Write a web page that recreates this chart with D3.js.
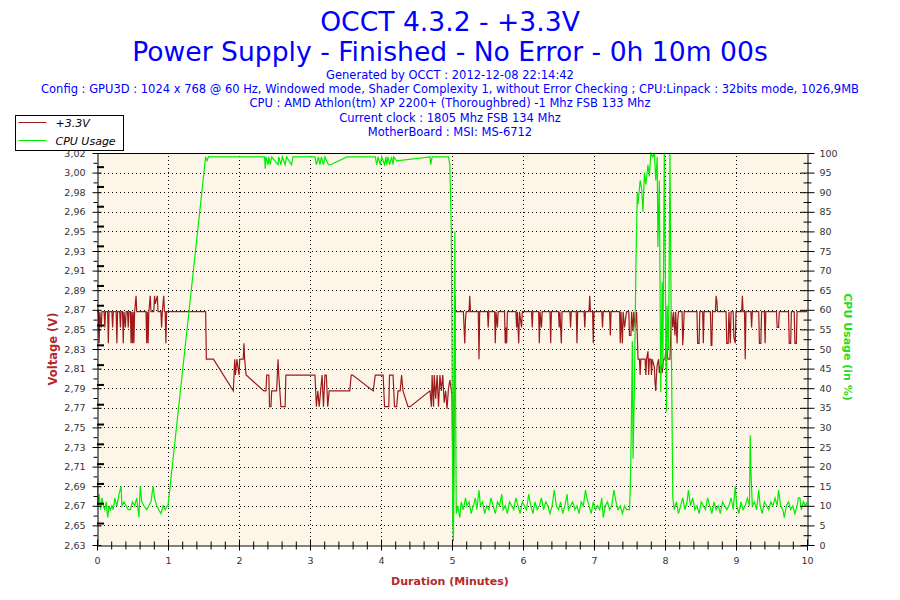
<!DOCTYPE html>
<html>
<head>
<meta charset="utf-8">
<script src="https://cdn.jsdelivr.net/npm/d3@7"></script>
<style>
body { margin: 0; background: #fff; }
svg { display: block; }
text { font-family: "DejaVu Sans", sans-serif; }
</style>
</head>
<body>
<svg width="900" height="600"></svg>
<script>
// ---- data ----
const titleLines = ["OCCT 4.3.2 - +3.3V", "Power Supply - Finished - No Error - 0h 10m 00s"];
const infoLines = [
  "Generated by OCCT : 2012-12-08 22:14:42",
  "Config : GPU3D : 1024 x 768 @ 60 Hz, Windowed mode, Shader Complexity 1, without Error Checking ; CPU:Linpack : 32bits mode, 1026,9MB",
  "CPU : AMD Athlon(tm) XP 2200+ (Thoroughbred) -1 Mhz FSB 133 Mhz",
  "Current clock : 1805 Mhz FSB 134 Mhz",
  "MotherBoard : MSI: MS-6712"
];
const seriesNames = ["+3.3V", "CPU Usage"];
const minuteTicks = [0, 1, 2, 3, 4, 5, 6, 7, 8, 9, 10];
const voltLabels = ["2,63", "2,65", "2,67", "2,69", "2,71", "2,73", "2,75", "2,77", "2,79", "2,81", "2,83",
                    "2,85", "2,87", "2,89", "2,91", "2,93", "2,95", "2,96", "2,98", "3,00", "3,02"];
const cpuTicks = [0, 5, 10, 15, 20, 25, 30, 35, 40, 45, 50, 55, 60, 65, 70, 75, 80, 85, 90, 95, 100];
const voltMin = 2.6283, voltMax = 3.0243;

// [minutes, volts]
const voltage = [
[0.00,2.864],[0.02,2.864],[0.03,2.832],[0.04,2.864],[0.06,2.848],[0.07,2.864],[0.10,2.864],[0.11,2.848],[0.12,2.864],
[0.15,2.864],[0.16,2.832],[0.17,2.864],[0.21,2.864],[0.22,2.848],[0.23,2.864],[0.27,2.864],[0.28,2.832],[0.29,2.864],
[0.32,2.864],[0.33,2.848],[0.34,2.864],[0.36,2.864],[0.37,2.832],[0.38,2.864],[0.40,2.848],[0.41,2.864],[0.43,2.864],
[0.44,2.848],[0.45,2.864],[0.47,2.864],[0.48,2.832],[0.49,2.864],[0.50,2.832],[0.51,2.864],[0.52,2.832],[0.53,2.864],
[0.55,2.880],[0.56,2.864],[0.69,2.864],[0.70,2.832],[0.71,2.864],[0.72,2.832],[0.73,2.864],[0.75,2.880],[0.76,2.864],
[0.80,2.864],[0.81,2.880],[0.82,2.872],[0.85,2.880],[0.86,2.864],[0.90,2.864],[0.91,2.848],[0.92,2.864],[0.94,2.880],
[0.95,2.864],[0.96,2.864],[0.97,2.832],[0.98,2.864],
[1.53,2.864],[1.54,2.816],[1.64,2.816],[1.92,2.784],[1.94,2.816],[1.95,2.800],[1.97,2.816],[2.00,2.800],[2.01,2.816],
[2.06,2.816],[2.07,2.832],[2.08,2.816],[2.10,2.800],[2.35,2.784],[2.38,2.784],[2.39,2.800],[2.42,2.800],[2.43,2.768],
[2.45,2.768],[2.46,2.784],[2.53,2.784],[2.54,2.800],[2.55,2.816],[2.56,2.800],[2.59,2.768],[2.65,2.768],[2.66,2.800],
[3.07,2.800],[3.09,2.768],[3.11,2.784],[3.13,2.768],[3.17,2.800],[3.19,2.768],[3.21,2.800],[3.23,2.800],[3.25,2.768],
[3.27,2.784],[3.56,2.784],[3.58,2.800],[3.60,2.800],[3.89,2.784],[3.92,2.800],[4.03,2.800],[4.05,2.768],[4.11,2.768],
[4.12,2.800],[4.17,2.800],[4.19,2.768],[4.22,2.768],[4.24,2.784],[4.27,2.784],[4.29,2.800],[4.31,2.784],[4.38,2.768],
[4.41,2.768],[4.69,2.784],[4.71,2.768],[4.72,2.800],[4.74,2.768],[4.75,2.800],[4.77,2.776],[4.79,2.800],[4.81,2.768],
[4.83,2.800],[4.85,2.784],[4.87,2.800],[4.89,2.772],[4.91,2.784],[4.93,2.766],[4.95,2.786],[4.97,2.795],[5.00,2.780],
[5.02,2.648],[5.03,2.790],[5.04,2.880],[5.05,2.864],
[5.16,2.864],[5.17,2.848],[5.18,2.832],[5.19,2.856],[5.20,2.864],[5.24,2.864],[5.25,2.880],[5.26,2.864],[5.37,2.864],
[5.38,2.816],[5.39,2.864],[5.50,2.864],[5.51,2.848],[5.52,2.864],[5.60,2.864],[5.61,2.832],[5.62,2.864],[5.64,2.848],
[5.65,2.864],[5.74,2.864],[5.75,2.832],[5.76,2.848],[5.77,2.832],[5.78,2.864],[5.90,2.864],[5.91,2.848],[5.92,2.864],
[5.94,2.832],[5.95,2.864],[5.98,2.848],[5.99,2.864],[6.12,2.864],[6.13,2.848],[6.14,2.864],[6.22,2.864],[6.23,2.832],
[6.24,2.864],[6.26,2.848],[6.27,2.864],[6.38,2.864],[6.39,2.832],[6.40,2.864],[6.50,2.864],[6.51,2.848],[6.52,2.864],
[6.54,2.832],[6.55,2.864],[6.66,2.864],[6.67,2.848],[6.68,2.864],[6.75,2.864],[6.76,2.832],[6.77,2.864],[6.86,2.864],
[6.87,2.848],[6.88,2.864],[6.93,2.864],[6.94,2.880],[6.95,2.864],[6.98,2.864],[6.99,2.832],[7.00,2.864],
[7.11,2.864],[7.12,2.848],[7.13,2.864],[7.22,2.864],[7.23,2.840],[7.24,2.864],[7.36,2.864],[7.37,2.832],[7.38,2.864],
[7.40,2.832],[7.41,2.864],[7.43,2.848],[7.45,2.860],[7.46,2.864],[7.49,2.864],[7.50,2.840],[7.52,2.840],[7.53,2.864],
[7.55,2.844],[7.56,2.864],[7.58,2.848],[7.60,2.864],[7.62,2.816],[7.64,2.816],[7.65,2.800],[7.66,2.816],[7.72,2.816],
[7.73,2.800],[7.74,2.816],[7.76,2.824],[7.77,2.800],[7.78,2.816],[7.80,2.816],[7.81,2.800],[7.82,2.816],[7.85,2.808],
[7.86,2.792],[7.87,2.784],[7.88,2.800],[7.89,2.810],[7.91,2.816],[7.92,2.802],[7.94,2.812],[7.96,2.802],[7.98,2.816],
[8.00,2.816],[8.02,2.832],[8.04,2.816],[8.07,2.816],[8.09,2.864],
[8.10,2.856],[8.11,2.848],[8.12,2.864],[8.14,2.840],[8.15,2.864],[8.17,2.832],[8.18,2.856],[8.19,2.864],[8.24,2.864],
[8.25,2.830],[8.26,2.844],[8.27,2.864],[8.45,2.864],[8.46,2.832],[8.48,2.832],[8.49,2.864],[8.53,2.864],[8.54,2.832],
[8.55,2.864],[8.64,2.864],[8.65,2.830],[8.66,2.830],[8.67,2.864],[8.71,2.864],[8.72,2.880],[8.73,2.875],[8.74,2.864],
[8.86,2.864],[8.87,2.832],[8.89,2.832],[8.90,2.864],[8.91,2.848],[8.92,2.832],[8.93,2.864],[8.96,2.864],[8.97,2.838],
[8.99,2.832],[9.00,2.864],[9.08,2.864],[9.09,2.880],[9.10,2.864],[9.12,2.864],[9.13,2.816],[9.14,2.864],[9.21,2.864],
[9.22,2.848],[9.23,2.864],[9.32,2.864],[9.33,2.832],[9.35,2.832],[9.36,2.864],[9.40,2.864],[9.41,2.832],[9.42,2.864],
[9.57,2.864],[9.58,2.848],[9.60,2.848],[9.61,2.864],[9.74,2.864],[9.75,2.832],[9.77,2.832],[9.78,2.864],[9.82,2.864],
[9.83,2.832],[9.85,2.832],[9.86,2.864],[10.00,2.864]
];

// [minutes, % CPU]
const cpuUsage = [
[0.00,17],[0.01,10],[0.03,13],[0.05,9],[0.07,12],[0.09,10],[0.11,9],[0.13,11],[0.15,7],[0.17,10],[0.19,9],[0.21,10],
[0.23,9],[0.25,12],[0.28,10],[0.31,13],[0.34,15],[0.35,10],[0.38,11],[0.41,10],[0.44,9],[0.47,9],[0.50,11],[0.53,10],
[0.56,12],[0.59,7],[0.61,15],[0.63,11],[0.66,10],[0.70,9],[0.73,10],[0.76,11],[0.79,15],[0.81,12],[0.84,10],[0.87,9],
[0.90,8],[0.93,10],[0.96,9],[0.99,10],[1.00,10],
[1.53,99],[1.55,98],[1.57,99],
[2.36,99],[2.37,96],[2.38,99],[2.41,97],[2.42,99],[2.44,97],[2.46,99],[2.55,97],[2.56,99],[2.59,97],[2.61,99],[2.65,97],
[2.67,99],[2.74,97],[2.76,99],[3.07,99],[3.09,97],[3.12,99],[3.14,97],[3.16,99],[3.19,97],[3.21,99],[3.26,97],[3.29,97],
[3.52,99],[3.92,99],[3.94,97],[3.96,99],[3.99,97],[4.01,99],[4.05,97],[4.07,99],[4.08,97],[4.10,99],[4.12,97],[4.15,99],
[4.17,97],[4.18,99],[4.22,98],[4.69,99],[4.70,97],[4.72,99],[4.95,99],[4.97,97],[4.99,80],[5.00,50],[5.01,6],[5.02,1],
[5.03,30],[5.04,80],[5.05,40],[5.06,8],
[5.08,10],[5.11,7],[5.13,11],[5.16,9],[5.19,12],[5.21,10],[5.24,11],[5.27,8],[5.30,10],[5.33,12],[5.35,9],[5.38,14],
[5.40,10],[5.43,11],[5.46,8],[5.49,10],[5.52,9],[5.55,12],[5.58,10],[5.61,8],[5.64,11],[5.67,10],[5.70,13],[5.72,9],
[5.75,10],[5.78,8],[5.81,11],[5.84,10],[5.87,9],[5.90,12],[5.93,10],[5.96,8],[5.99,11],[6.02,10],[6.05,9],[6.08,13],
[6.11,10],[6.14,8],[6.17,11],[6.20,9],[6.23,10],[6.26,12],[6.29,9],[6.32,11],[6.35,10],[6.38,8],[6.41,10],[6.44,14],
[6.47,10],[6.50,9],[6.53,11],[6.56,8],[6.59,10],[6.62,13],[6.64,9],[6.67,10],[6.70,11],[6.73,9],[6.76,10],[6.79,8],
[6.82,11],[6.85,10],[6.88,14],[6.90,12],[6.93,10],[6.96,8],[6.99,11],[7.02,9],[7.05,10],[7.08,9],[7.11,12],[7.13,7],
[7.16,10],[7.19,11],[7.22,9],[7.25,10],[7.28,14],[7.31,11],[7.34,9],[7.37,10],[7.40,8],[7.43,10],[7.46,9],[7.50,9],
[7.51,14],[7.52,23],[7.54,52],[7.55,22],[7.57,41],[7.59,71],[7.61,90],[7.62,87],[7.65,93],[7.67,91],[7.69,85],[7.71,95],
[7.73,92],[7.76,97],[7.78,94],[7.80,100],[7.83,99],[7.85,100],[7.87,93],[7.89,99],[7.90,76],[7.92,93],[7.94,39],[7.96,67],
[7.97,45],[7.99,100],[8.02,34],[8.03,61],[8.05,50],[8.07,100],[8.09,50],[8.11,12],
[8.13,9],[8.16,11],[8.19,8],[8.22,10],[8.25,12],[8.28,9],[8.31,11],[8.33,14],[8.36,10],[8.39,12],[8.42,9],[8.45,10],
[8.48,8],[8.51,11],[8.54,10],[8.57,9],[8.60,12],[8.63,10],[8.66,8],[8.69,11],[8.72,9],[8.75,10],[8.78,8],[8.81,11],
[8.84,10],[8.87,9],[8.90,10],[8.93,12],[8.96,9],[8.99,15],[9.01,10],[9.04,8],[9.07,11],[9.10,9],[9.13,10],[9.16,12],
[9.19,10],[9.20,28],[9.21,19],[9.23,10],[9.26,11],[9.29,9],[9.32,14],[9.34,10],[9.37,8],[9.40,11],[9.43,10],[9.46,9],
[9.49,11],[9.52,10],[9.55,12],[9.58,10],[9.60,14],[9.63,10],[9.66,9],[9.68,7],[9.71,10],[9.74,11],[9.77,9],[9.80,10],
[9.83,8],[9.86,10],[9.88,12],[9.90,12],[9.92,9],[9.95,11],[9.98,10],[10.00,11]
];

// ---- layout ----
const plotLeft = 97, plotRight = 807, plotTop = 153, plotBottom = 545;
const voltColor = "#9e1a1a", cpuColor = "#00ee00", textBlue = "#0000ff";

const svg = d3.select("svg");

const xScale = d3.scaleLinear().domain([0, 10]).range([plotLeft, plotRight]);
const yVolt = d3.scaleLinear().domain([voltMin, voltMax]).range([plotBottom, plotTop]);
const yCpu = d3.scaleLinear().domain([0, 100]).range([plotBottom, plotTop]);

const voltStep = (voltMax - voltMin) / (voltLabels.length - 1);
const voltTicks = voltLabels.map((d, i) => voltMin + i * voltStep);

// titles
svg.selectAll("text.title").data(titleLines).enter().append("text")
    .attr("class", "title")
    .attr("x", 450).attr("y", (d, i) => 31 + i * 30)
    .attr("text-anchor", "middle")
    .attr("font-size", 26.6)
    .attr("fill", textBlue)
    .text(d => d);

svg.selectAll("text.info").data(infoLines).enter().append("text")
    .attr("class", "info")
    .attr("x", 450).attr("y", (d, i) => 79 + i * 14.2)
    .attr("text-anchor", "middle")
    .attr("font-size", 11.5)
    .attr("fill", textBlue)
    .text(d => d);

// plot background
svg.append("rect")
    .attr("x", plotLeft).attr("y", plotTop)
    .attr("width", plotRight - plotLeft).attr("height", plotBottom - plotTop)
    .attr("fill", "#fdf6e8");

// dotted grid
const grid = svg.append("g")
    .attr("stroke", "#000")
    .attr("stroke-width", 1)
    .attr("stroke-dasharray", "1,3")
    .attr("shape-rendering", "crispEdges");

grid.selectAll("line.h").data(voltTicks.slice(1, -1)).enter().append("line")
    .attr("x1", plotLeft + 3).attr("x2", plotRight)
    .attr("y1", d => Math.round(yVolt(d)) + 0.5).attr("y2", d => Math.round(yVolt(d)) + 0.5);

grid.selectAll("line.v").data(minuteTicks.slice(1, -1)).enter().append("line")
    .attr("y1", plotTop + 3).attr("y2", plotBottom)
    .attr("x1", d => Math.round(xScale(d)) + 0.5).attr("x2", d => Math.round(xScale(d)) + 0.5);

// series
svg.append("clipPath").attr("id", "plotClip").append("rect")
    .attr("x", plotLeft).attr("y", plotTop - 1)
    .attr("width", plotRight - plotLeft).attr("height", plotBottom - plotTop + 1);

const voltLine = d3.line().x(d => xScale(d[0])).y(d => yVolt(d[1]));
const cpuLine = d3.line().x(d => xScale(d[0])).y(d => yCpu(d[1]));

svg.append("path")
    .attr("d", voltLine(voltage))
    .attr("clip-path", "url(#plotClip)")
    .attr("fill", "none")
    .attr("stroke", voltColor)
    .attr("stroke-width", 1.2);

svg.append("path")
    .attr("d", cpuLine(cpuUsage))
    .attr("clip-path", "url(#plotClip)")
    .attr("fill", "none")
    .attr("stroke", cpuColor)
    .attr("stroke-width", 1.2);

// frame top
svg.append("line")
    .attr("x1", plotLeft).attr("x2", plotRight)
    .attr("y1", plotTop + 0.5).attr("y2", plotTop + 0.5)
    .attr("stroke", "#000");

// axes
function styleAxis(g) {
    g.select(".domain").attr("stroke", "#000");
    g.selectAll(".tick line").attr("stroke", "#000");
    g.selectAll(".tick text")
        .attr("fill", "#333")
        .attr("font-family", "DejaVu Sans, sans-serif")
        .attr("font-size", 9.5);
}

const xAxis = d3.axisBottom(xScale).tickValues(minuteTicks).tickSize(5).tickSizeOuter(0).tickPadding(7);
svg.append("g")
    .attr("transform", "translate(0," + (plotBottom + 0.5) + ")")
    .call(xAxis).call(styleAxis)
    .call(g => g.selectAll(".tick line").attr("y1", -6));

const xMinor = d3.axisBottom(xScale)
    .tickValues(d3.range(0, 10.01, 0.2).filter(d => Math.abs(d - Math.round(d)) > 0.01))
    .tickSize(4).tickFormat("").tickSizeOuter(0);
svg.append("g")
    .attr("transform", "translate(0," + (plotBottom + 0.5) + ")")
    .call(xMinor).call(styleAxis)
    .call(g => g.select(".domain").remove())
    .call(g => g.selectAll(".tick line").attr("y1", -4));

const yAxisLeft = d3.axisLeft(yVolt).tickValues(voltTicks)
    .tickFormat((d, i) => voltLabels[i]).tickSize(5).tickSizeOuter(0).tickPadding(7);
svg.append("g")
    .attr("transform", "translate(" + (plotLeft + 0.5) + ",0)")
    .call(yAxisLeft).call(styleAxis)
    .call(g => g.selectAll(".tick line").attr("x1", 4));

// heavier ticks on the voltage axis at every 0.02 V
const voltHeavy = d3.range(2.65, 3.015, 0.02);
svg.append("g").selectAll("line").data(voltHeavy).enter().append("line")
    .attr("x1", plotLeft).attr("x2", plotLeft + 7)
    .attr("y1", d => yVolt(d)).attr("y2", d => yVolt(d))
    .attr("stroke", "#000").attr("stroke-width", 2);

const yMinorLeft = d3.axisLeft(yVolt)
    .tickValues(voltTicks.slice(0, -1).map(d => d + voltStep / 2))
    .tickSize(4).tickFormat("").tickSizeOuter(0);
svg.append("g")
    .attr("transform", "translate(" + (plotLeft + 0.5) + ",0)")
    .call(yMinorLeft).call(styleAxis)
    .call(g => g.select(".domain").remove());

const yAxisRight = d3.axisRight(yCpu).tickValues(cpuTicks).tickSize(7).tickSizeOuter(0).tickPadding(5);
svg.append("g")
    .attr("transform", "translate(" + (plotRight + 0.5) + ",0)")
    .call(yAxisRight).call(styleAxis)
    .call(g => g.selectAll(".tick line").attr("x1", -7));

const yMinorRight = d3.axisRight(yCpu)
    .tickValues(cpuTicks.slice(0, -1).map(d => d + 2.5))
    .tickSize(4).tickFormat("").tickSizeOuter(0);
svg.append("g")
    .attr("transform", "translate(" + (plotRight + 0.5) + ",0)")
    .call(yMinorRight).call(styleAxis)
    .call(g => g.select(".domain").remove())
    .call(g => g.selectAll(".tick line").attr("x1", -4));

// axis titles
svg.append("text")
    .attr("transform", "translate(57,349) rotate(-90)")
    .attr("text-anchor", "middle")
    .attr("font-size", 11.5).attr("font-weight", "bold")
    .attr("fill", "#b22a2a")
    .text("Voltage (V)");

svg.append("text")
    .attr("transform", "translate(844,347) rotate(90)")
    .attr("text-anchor", "middle")
    .attr("font-size", 11).attr("font-weight", "bold")
    .attr("fill", "#22dd22")
    .text("CPU Usage (in %)");

svg.append("text")
    .attr("x", 450).attr("y", 585)
    .attr("text-anchor", "middle")
    .attr("font-size", 11).attr("font-weight", "bold")
    .attr("fill", "#b22a2a")
    .text("Duration (Minutes)");

// legend
const legend = svg.append("g").attr("transform", "translate(15.5,115.5)");
legend.append("rect")
    .attr("width", 108).attr("height", 35)
    .attr("fill", "#fff").attr("stroke", "#000");
const legendColors = [voltColor, cpuColor];
const rows = legend.selectAll("g").data(seriesNames).enter().append("g")
    .attr("transform", (d, i) => "translate(0," + (7 + i * 18) + ")");
rows.append("line")
    .attr("x1", 3).attr("x2", 31)
    .attr("stroke", (d, i) => legendColors[i]);
rows.append("text")
    .attr("x", 40).attr("y", 4)
    .attr("font-size", 11).attr("font-style", "italic")
    .attr("fill", "#000")
    .text(d => d);
</script>
</body>
</html>
